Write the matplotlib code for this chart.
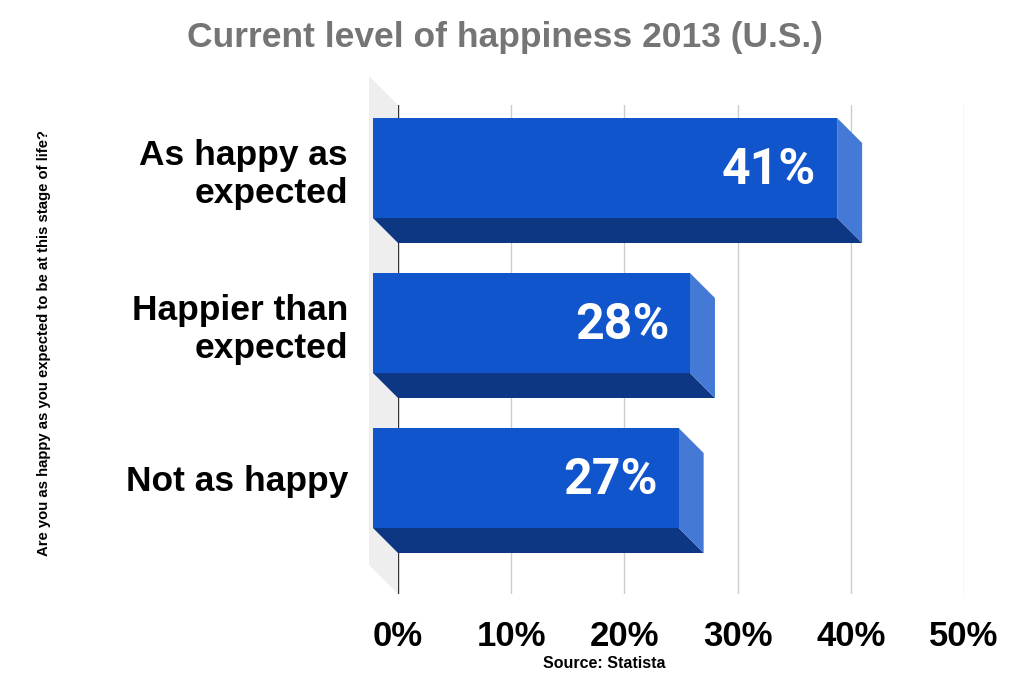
import matplotlib
matplotlib.use('Agg')
import matplotlib.pyplot as plt
from matplotlib.patches import Polygon, Rectangle

categories = ['As happy as\nexpected', 'Happier than\nexpected', 'Not as happy']
values = [41, 28, 27]
value_labels = ['41%', '28%', '27%']
ticks = [0, 10, 20, 30, 40, 50]
tick_labels = ['0%', '10%', '20%', '30%', '40%', '50%']

front_col = '#1155cc'
bottom_col = '#0d3683'
side_col = '#4479d6'
wall_col = '#eeeeee'

fig = plt.figure(figsize=(10.10, 6.87), dpi=100)
# axes = back plane of the 3d box (0% .. 50%)
ax = fig.add_axes([398 / 1010, 93 / 687, 566 / 1010, 489 / 687])
ax.set_xlim(0, 50)
y_top, y_bot = -88 / 155, 489 / 155 - 88 / 155
ax.set_ylim(y_bot, y_top)

px_x = 50 / 566   # data units per pixel, x
px_y = 1 / 155    # data units per pixel, y
dx, dy = 25 * px_x, 25 * px_y
wx, wy = 29 * px_x, 29 * px_y
h = 100 * px_y

# left wall
ax.add_patch(Polygon([(-wx, y_top - wy), (0, y_top), (0, y_bot), (-wx, y_bot - wy)],
                     closed=True, facecolor=wall_col, edgecolor='none', clip_on=False, zorder=0))

# gridlines
for t in ticks:
    ax.axvline(t, color='#333333' if t == 0 else '#cccccc', lw=1, zorder=1)

for i, v in enumerate(values):
    btop, bbot = i - h / 2, i + h / 2
    ftop, fbot = btop - dy, bbot - dy
    # bottom face
    ax.add_patch(Polygon([(-dx, fbot), (v - dx, fbot), (v, bbot), (0, bbot)],
                         closed=True, facecolor=bottom_col, edgecolor='none', clip_on=False, zorder=2))
    # side face
    ax.add_patch(Polygon([(v - dx, ftop), (v, btop), (v, bbot), (v - dx, fbot)],
                         closed=True, facecolor=side_col, edgecolor='none', clip_on=False, zorder=2))
    # front face
    ax.add_patch(Rectangle((-dx, ftop), v, h, facecolor=front_col, edgecolor='none',
                           clip_on=False, zorder=3))
    ax.annotate(value_labels[i], xy=(v - dx, i - dy), xytext=(-15, -2), textcoords='offset points',
                ha='right', va='center', color='white', fontsize=36, fontweight='bold',
                family=['Roboto', 'DejaVu Sans'], zorder=4)

ax.set_xticks(ticks, tick_labels)
ax.set_yticks([i - dy for i in range(len(categories))], categories)
ax.tick_params(axis='x', length=0, pad=19, labelsize=25)
ax.tick_params(axis='y', length=0, pad=36, labelsize=25.5)
for lab in ax.get_xticklabels() + ax.get_yticklabels():
    lab.set_fontweight('bold')
    lab.set_family('Liberation Sans')
for lab in ax.get_yticklabels():
    lab.set_multialignment('right')
    lab.set_linespacing(1.2)
for s in ax.spines.values():
    s.set_visible(False)

fig.text(0.5, 1 - 37 / 687, 'Current level of happiness 2013 (U.S.)', ha='center', va='center',
         fontsize=25.5, fontweight='bold', color='#757575',
         family=['Liberation Sans Narrow', 'Liberation Sans'])
fig.text(44 / 1010, 1 - 343 / 687, 'Are you as happy as you expected to be at this stage of life?',
         rotation=90, ha='center', va='center', fontsize=10.7, fontweight='bold',
         family='Liberation Sans')
fig.text(604 / 1010, 1 - 663 / 687, 'Source: Statista', ha='center', va='center',
         fontsize=11.5, fontweight='bold', family='Liberation Sans')

fig.savefig('out.png', dpi=100)
